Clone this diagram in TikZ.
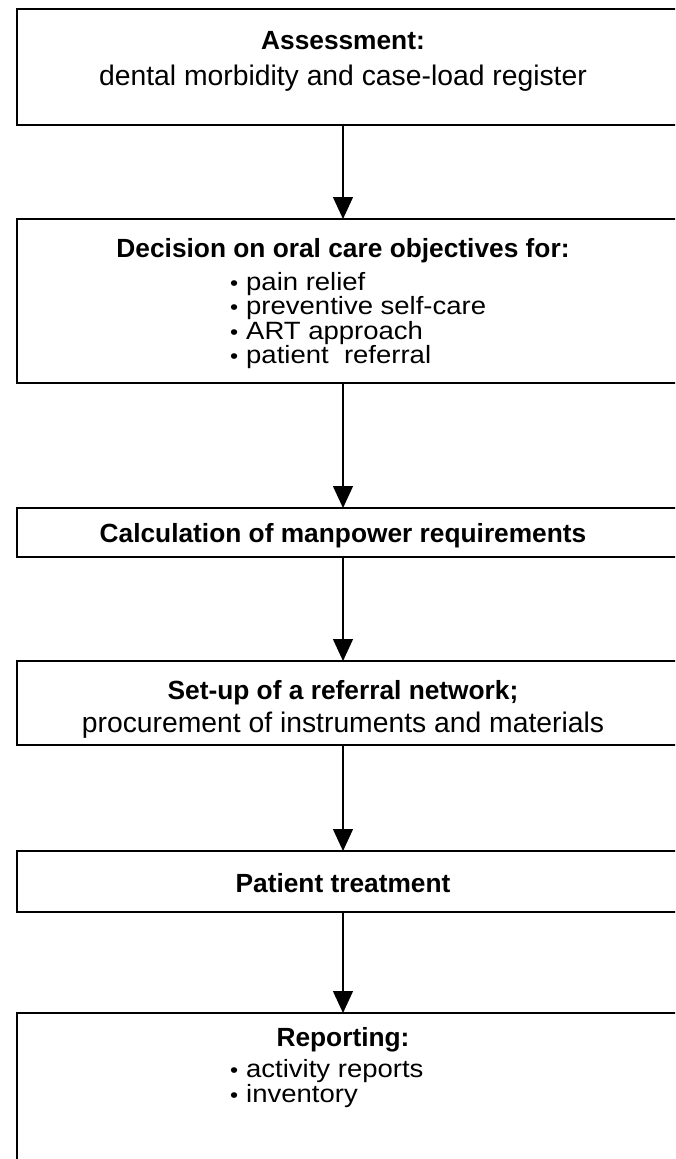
\documentclass[tikz,border=0pt]{standalone}
\usepackage{fontspec}
\setmainfont{Liberation Sans}
\newfontfamily\itemfont[FakeStretch=1.1]{Liberation Sans}
\usetikzlibrary{arrows.meta}
\begin{document}
\begin{tikzpicture}[x=1pt,y=-1pt,
  box/.style={draw, line width=1.7pt, minimum width=700pt, anchor=north west, inner sep=0pt, outer sep=0pt},
  hd/.style={font=\fontsize{26.3}{30}\selectfont\bfseries, inner sep=0pt},
  tx/.style={font=\fontsize{28.3}{30}\selectfont, inner sep=0pt},
  item/.style={font=\itemfont\fontsize{25}{26}\selectfont, inner sep=0pt, anchor=base west},
  arr/.style={line width=1.4pt, -{Triangle[width=20pt,length=22pt]}}]
\useasboundingbox (0,0) rectangle (675,1159);
\clip (0,0) rectangle (675,1159);
\coordinate (ax) at (343,0);
\newcommand{\bul}{\makebox[16pt][l]{\fontsize{21}{24}\selectfont•}}
% boxes
\node[box, minimum height=116pt] (b1) at (17,9) {};
\node[box, minimum height=164pt] (b2) at (17,219) {};
\node[box, minimum height=49pt] (b3) at (17,508) {};
\node[box, minimum height=84pt] (b4) at (17,661) {};
\node[box, minimum height=61pt] (b5) at (17,851) {};
\node[box, minimum height=200pt] (b6) at (17,1013) {};
% texts
\node[hd] (t1) at (343,41) {Assessment:};
\node[tx] (t1b) at (343,78) {dental morbidity and case-load register};
\node[hd] (t2) at (343,251) {Decision on oral care objectives for:};
\node[item] (i21) at (230,290) {\bul pain relief};
\node[item] (i22) at (230,314.5) {\bul preventive self-care};
\node[item] (i23) at (230,339) {\bul ART approach};
\node[item] (i24) at (230,363) {\bul patient\ \ referral};
\node[hd] (t3) at (343,536) {Calculation of manpower requirements};
\node[hd] (t4) at (343,693) {Set-up of a referral network;};
\node[tx] (t4b) at (343,725) {procurement of instruments and materials};
\node[hd] (t5) at (343,883) {Patient treatment};
\node[hd] (t6) at (343,1040) {Reporting:};
\node[item] (i61) at (230,1077) {\bul activity reports};
\node[item] (i62) at (230,1102) {\bul inventory};
% arrows
\draw[arr] (b1.south -| ax) -- (b2.north -| ax);
\draw[arr] (b2.south -| ax) -- (b3.north -| ax);
\draw[arr] (b3.south -| ax) -- (b4.north -| ax);
\draw[arr] (b4.south -| ax) -- (b5.north -| ax);
\draw[arr] (b5.south -| ax) -- (b6.north -| ax);
\end{tikzpicture}
\end{document}
